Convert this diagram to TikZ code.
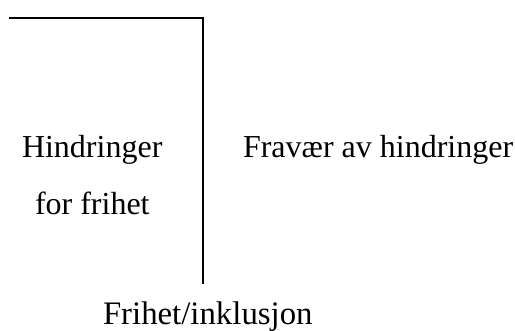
\documentclass[tikz,border=0pt]{standalone}
\usepackage{fontspec}
\setmainfont{Liberation Serif}
\tikzset{field_text/.style={inner sep=0pt, outer sep=0pt, anchor=base west, font=\fontsize{32}{38}\selectfont}}
\tikzset{axis_text/.style={field_text, font=\fontsize{32.8}{38}\selectfont}}
\tikzset{edge_line/.style={line width=2pt, line cap=rect}}
\begin{document}
\begin{tikzpicture}[x=1pt,y=-1pt]
    \useasboundingbox (0,0) rectangle (515,331);
    \coordinate (top_left) at (10,18);
    \coordinate (corner) at (203,18);
    \coordinate (bottom) at (203,283);
    \draw[edge_line] (top_left)--(corner)--(bottom);
    \node[field_text] (hindringer) at (22,158) {Hindringer};
    \node[field_text] (for_frihet) at (35,215) {for frihet};
    \node[field_text] (fravaer) at (243,158) {Fravær av hindringer};
    \node[axis_text] (frihet) at (103,325) {Frihet/inklusjon};
  \end{tikzpicture}
\end{document}
